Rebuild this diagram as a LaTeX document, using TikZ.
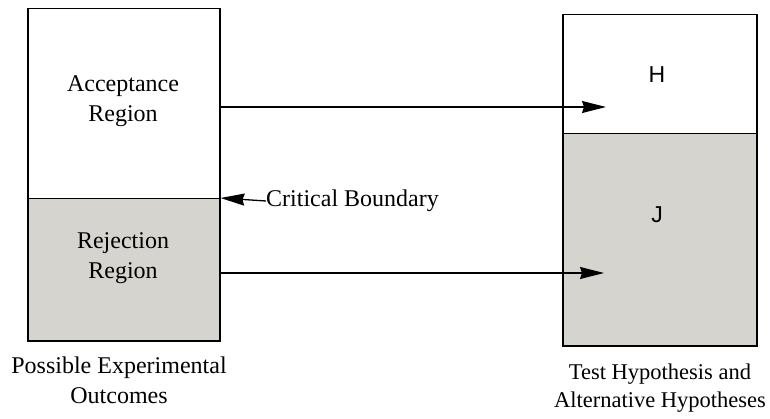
\documentclass[tikz,border=0pt]{standalone}
\usepackage{fontspec}
\setmainfont{Liberation Serif}
\newfontfamily\helv{Liberation Sans}
\usetikzlibrary{arrows.meta}
\definecolor{shade}{RGB}{214,212,207}
\tikzset{
  region/.style={draw=black, line width=1.5pt, minimum width=#1, inner sep=0pt, anchor=north west},
  lbl/.style={font=\fontsize{24}{30}\selectfont, align=center, inner sep=0pt},
  letter/.style={font=\helv\fontsize{23}{27}\selectfont, inner sep=0pt},
  link/.style={line width=1.3pt, -{Stealth[length=24pt, width=12pt, inset=2pt]}}
}
\begin{document}
\begin{tikzpicture}[x=1pt, y=-1pt]
\useasboundingbox (0,0) rectangle (770,419);
% left column: possible outcomes
\node[region=192pt, minimum height=190pt] (acc) at (27,8) {};
\node[region=192pt, minimum height=142pt, fill=shade] (rej) at (27,198) {};
\node[lbl] (accT) at (123,101) {Acceptance\\Region};
\node[lbl] (rejT) at (123,258) {Rejection\\Region};
\node[lbl] (outT) at (119,380) {Possible Experimental\\Outcomes};
% right column: hypotheses
\node[region=194pt, minimum height=119pt] (hyp) at (562,14) {};
\node[region=194pt, minimum height=212pt, fill=shade] (alt) at (562,133) {};
\node[letter] (hT) at (657,75) {H};
\node[letter] (jT) at (657,215) {J};
\node[lbl, font=\fontsize{22.5}{28}\selectfont] (hypT) at (660,388) {Test Hypothesis and\\Alternative Hypotheses};
% critical boundary pointer
\node[lbl, anchor=west] (crit) at (266,201) {Critical Boundary};
\coordinate (bnd) at (rej.north east);
\draw[link] (crit.west) -- (bnd);
% mappings from regions to hypotheses
\coordinate (hIn) at (606,107);
\coordinate (jIn) at (604,273);
\draw[link] (acc.east |- hIn) -- (hIn);
\draw[link] (rej.east |- jIn) -- (jIn);
\end{tikzpicture}
\end{document}
